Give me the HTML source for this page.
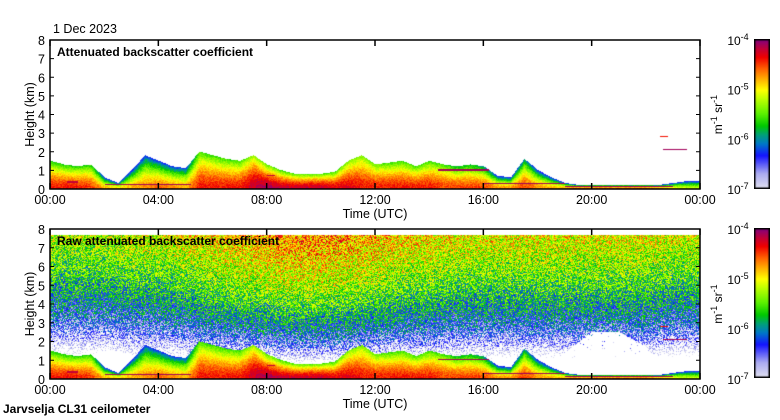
<!DOCTYPE html>
<html><head><meta charset="utf-8">
<style>
body{margin:0;background:#fff;width:780px;height:420px;overflow:hidden;position:relative;font-family:"Liberation Sans",sans-serif;}
canvas{position:absolute;}
svg{position:absolute;left:0;top:0;}
text{font-family:"Liberation Sans",sans-serif;fill:#000;}
</style></head>
<body>
<canvas id="c1" width="650" height="149" style="left:50px;top:40px"></canvas>
<canvas id="c2" width="650" height="150" style="left:50px;top:229px"></canvas>
<canvas id="cb1" width="16" height="150" style="left:754px;top:39px"></canvas>
<canvas id="cb2" width="16" height="150" style="left:754px;top:228px"></canvas>
<svg id="ov" width="780" height="420"></svg>
<script>
// ---- data (half-hour resolution, 0..24 h) ----
const layerTop=[1.5,1.3,1.2,1.3,0.6,0.3,1.0,1.8,1.5,1.2,1.1,2.0,1.8,1.6,1.5,1.8,1.3,1.0,0.8,0.8,0.8,0.9,1.5,1.8,1.3,1.4,1.5,1.2,1.5,1.3,1.2,1.3,1.2,0.7,0.6,1.6,1.0,0.6,0.3,0.2,0.2,0.2,0.2,0.2,0.2,0.2,0.3,0.4,0.4];
const surfLog=[-4.4,-4.4,-4.4,-4.5,-4.8,-4.9,-4.8,-4.7,-4.6,-4.7,-4.8,-4.4,-4.4,-4.4,-4.4,-4.2,-4.1,-4.2,-4.2,-4.2,-4.2,-4.3,-4.3,-4.4,-4.4,-4.4,-4.4,-4.4,-4.4,-4.5,-4.5,-4.5,-4.5,-4.7,-4.7,-4.5,-4.7,-4.8,-4.7,-4.6,-4.6,-4.6,-4.6,-4.6,-4.6,-4.8,-5.0,-5.2,-5.2];
const topLog=[-5.7,-5.7,-5.7,-5.7,-6.4,-6.4,-6.4,-6.3,-6.3,-6.3,-6.3,-5.6,-5.6,-5.6,-5.6,-5.3,-5.5,-5.6,-5.6,-5.6,-5.6,-5.6,-5.4,-5.4,-5.5,-5.6,-5.6,-5.6,-5.6,-5.6,-5.8,-5.8,-6.0,-6.4,-6.4,-6.0,-6.4,-6.4,-6.4,-6.3,-6.2,-6.2,-6.2,-6.2,-6.2,-6.4,-6.4,-6.4,-6.4];
// hourly background noise level and clear-sky mask height (raw panel)
const noiseLog=[-7.9,-7.9,-7.9,-7.8,-7.8,-7.7,-7.6,-7.5,-7.4,-7.35,-7.35,-7.4,-7.5,-7.6,-7.6,-7.7,-7.7,-7.7,-7.7,-7.7,-7.7,-7.7,-7.7,-7.8,-7.8];
const maskTop=[0,0.9,1.6,1.3,0,0,0,0,0,0,0,0,0,0,0,0,0,0,0,1.4,2.5,2.5,1.7,0,0];
// cloud / layer base segments: start h, end h, height km, log value
const segStart=[0.6,2.0,8.0,14.3,16.0,19.0,22.6,22.5];
const segEnd=[1.0,5.2,8.3,16.2,19.0,23.0,23.5,22.8];
const segH=[0.35,0.22,0.7,1.0,0.25,0.1,2.1,2.8];
const segV=[-4.2,-4.1,-4.2,-4.1,-4.1,-4.1,-4.1,-4.4];
const xTicks=["00:00","04:00","08:00","12:00","16:00","20:00","00:00"];
const yTicks=[0,1,2,3,4,5,6,7,8];

const W=650;
const xs=t=>50+t/24*W;
function interp(arr,t,step){const i=t/step;const a=Math.min(Math.floor(i),arr.length-1);const b=Math.min(a+1,arr.length-1);const f=i-a;return arr[a]*(1-f)+arr[b]*f;}
const stops=[[0,[224,224,240]],[0.1,[170,170,240]],[0.22,[20,20,255]],[0.3,[0,120,200]],[0.36,[0,160,120]],[0.42,[0,200,0]],[0.5,[90,240,0]],[0.6,[190,255,0]],[0.66,[255,255,0]],[0.72,[255,190,0]],[0.8,[255,100,0]],[0.88,[240,0,0]],[0.94,[190,0,60]],[1,[128,0,128]]];
function cmap(f){f=Math.max(0,Math.min(1,f));for(let i=1;i<stops.length;i++){if(f<=stops[i][0]){const a=stops[i-1],b=stops[i];const k=(f-a[0])/(b[0]-a[0]);return [0,1,2].map(j=>Math.round(a[1][j]*(1-k)+b[1][j]*k));}}return stops[stops.length-1][1];}
function hsh(x,y){let n=Math.imul(x,374761393)+Math.imul(y,668265263);n=Math.imul(n^(n>>>13),1274126177);n^=n>>>16;return ((n>>>0)%10000)/10000;}

function layerVal(t,h){const top=interp(layerTop,t,0.5);if(h>top)return null;const s=interp(surfLog,t,0.5),e=interp(topLog,t,0.5);return s+(e-s)*Math.pow(h/top,1.6);}
function segVal(t,h,px){for(let i=0;i<segStart.length;i++){if(t>=segStart[i]&&t<=segEnd[i]&&Math.abs(h-segH[i])<px)return segV[i];}return null;}

function draw(id,H,raw){
  const c=document.getElementById(id),ctx=c.getContext('2d');const img=ctx.createImageData(W,H);const d=img.data;
  const kmPx=8/(H-1);
  for(let x=0;x<W;x++){const t=x/W*24;
    for(let y=0;y<H;y++){const h=(H-1-y)*kmPx;let v=null;
      const sv=segVal(t,h,kmPx*0.6);
      if(sv!==null)v=sv;else{
        const lv=layerVal(t,h);
        if(lv!==null)v=lv+(hsh(x,y)-0.5)*0.25;
        else if(raw&&h<=7.7){
          const mt=interp(maskTop,t,1);
          const bg=interp(noiseLog,t,1)+3*Math.log10(Math.max(h,0.3))+(hsh(x,y+999)-0.5)*1.2;
          if(h<mt&&hsh(x,y+5)<0.96)v=null;
          else if(bg>-7.05)v=bg;
        }
      }
      const o=(y*W+x)*4;
      if(v===null){d[o]=d[o+1]=d[o+2]=255;}else{const col=cmap((v+7)/3);d[o]=col[0];d[o+1]=col[1];d[o+2]=col[2];}
      d[o+3]=255;
    }}
  ctx.putImageData(img,0,0);
}
draw('c1',149,false);draw('c2',150,true);
['cb1','cb2'].forEach(id=>{const ctx=document.getElementById(id).getContext('2d');for(let y=0;y<150;y++){const col=cmap(1-y/149);ctx.fillStyle=`rgb(${col})`;ctx.fillRect(0,y,16,1);}ctx.strokeStyle='#000';ctx.lineWidth=1.5;ctx.strokeRect(0.75,0.75,14.5,148.5);});

// ---- overlay ----
const ov=document.getElementById('ov');const NS='http://www.w3.org/2000/svg';
function el(tag,attrs,txt){const e=document.createElementNS(NS,tag);for(const k in attrs)e.setAttribute(k,attrs[k]);if(txt!==undefined)e.textContent=txt;ov.appendChild(e);return e;}
const panels=[{top:40,bot:189,title:'Attenuated backscatter coefficient',n:'top'},{top:229,bot:379,title:'Raw attenuated backscatter coefficient',n:'bottom'}];
panels.forEach(p=>{
  const fr=el('rect',{x:50,y:p.top,width:650,height:p.bot-p.top,fill:'none',stroke:'#000','stroke-width':1.5});
  
  const ys=v=>p.bot-v/8*(p.bot-p.top);
  yTicks.forEach(v=>{const y=ys(v);
    el('line',{x1:50,x2:54,y1:y,y2:y,stroke:'#000'});el('line',{x1:696,x2:700,y1:y,y2:y,stroke:'#000'});
    const tl=el('text',{x:45,y:y+5,'text-anchor':'end','font-size':12.5},String(v));
    });
  xTicks.forEach((s,i)=>{const x=xs(i*4);
    el('line',{x1:x,x2:x,y1:p.top,y2:p.top+6,stroke:'#000','stroke-width':1.5});el('line',{x1:x,x2:x,y1:p.bot-6,y2:p.bot,stroke:'#000','stroke-width':1.5});
    const tl=el('text',{x:x,y:p.bot+15,'text-anchor':'middle','font-size':12.5},s);
    });
  const tt=el('text',{x:57,y:p.top+16,'font-size':12,'font-weight':'bold'},p.title);
  
  const xt=el('text',{x:375,y:p.bot+29,'text-anchor':'middle','font-size':12.5},'Time (UTC)');
  
  const cy=(p.top+p.bot)/2;
  const yt=el('text',{x:0,y:0,'text-anchor':'middle','font-size':12.5,transform:`translate(34,${cy}) rotate(-90)`},'Height (km)');
  
  [-4,-5,-6,-7].forEach((e,i)=>{const y=p.top+i*(p.bot-p.top)/3;
    const t=el('text',{x:738,y:y+5,'text-anchor':'middle','font-size':12},'10');
    const s=el('tspan',{dy:-5,'font-size':9},String(e));t.appendChild(s);
    });
  const u=el('text',{x:0,y:0,'text-anchor':'middle','font-size':12,transform:`translate(722,${cy}) rotate(-90)`});
  u.innerHTML='m<tspan dy="-5" font-size="9">-1</tspan><tspan dy="5"> sr</tspan><tspan dy="-5" font-size="9">-1</tspan>';
  
});
const dt=el('text',{x:53,y:33,'font-size':12.5},'1 Dec 2023');

const ft=el('text',{x:3,y:413,'font-size':12,'font-weight':'bold'},'Jarvselja CL31 ceilometer');

</script>
</body></html>
